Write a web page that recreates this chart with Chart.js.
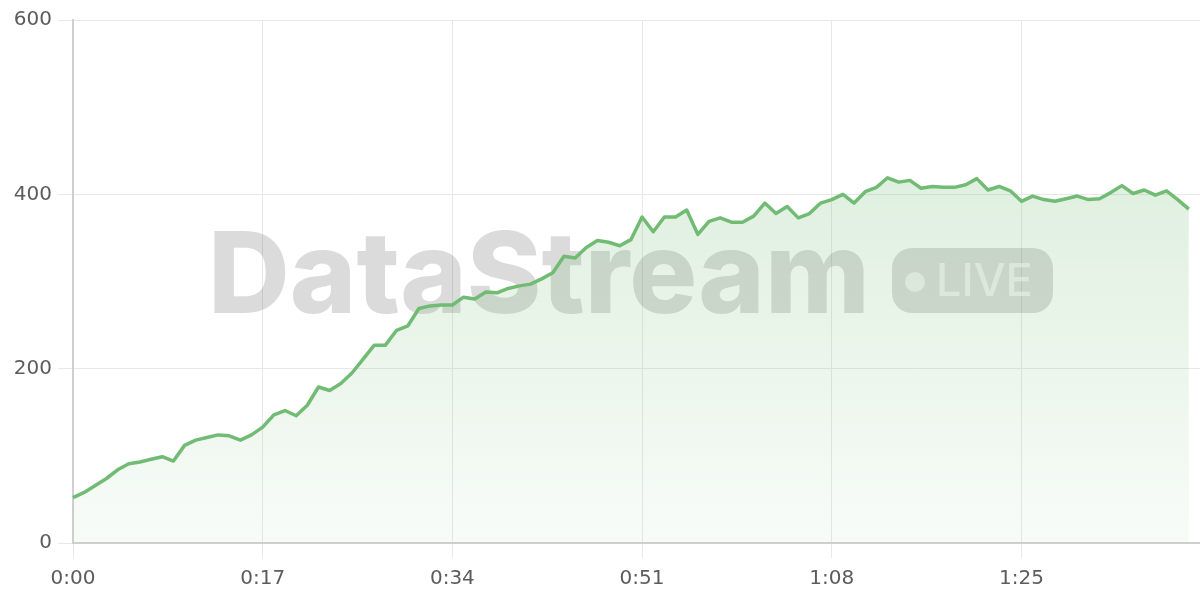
<!DOCTYPE html>
<html>
<head>
<meta charset="utf-8">
<script src="https://cdn.jsdelivr.net/npm/chart.js@4.4.1/dist/chart.umd.min.js"></script>
<style>
    html, body { margin: 0; padding: 0; background: #fff; }
    #wrap { width: 1200px; height: 600px; }
</style>
</head>
<body>
<div id="wrap"><canvas id="liveChart"></canvas></div>
<script>
// Sumbu waktu (detik sejak mulai), satu slot lebih dari data
const detik = Array.from({ length: 102 }, (_, i) => i);
const labelWaktu = detik.map(s => Math.floor(s / 60) + ':' + String(s % 60).padStart(2, '0'));

// Nilai stream per detik
const nilaiStream = [
    52, 58, 66, 74, 84, 91, 93, 96, 99, 94,
    112, 118, 121, 124, 123, 118, 124, 133, 147, 152,
    146, 158, 179, 175, 183, 195, 211, 227, 227, 244,
    249, 269, 272, 273, 273, 282, 280, 288, 287, 292,
    295, 297, 303, 310, 329, 327, 339, 347, 345, 341,
    348, 374, 357, 374, 374, 382, 354, 369, 373, 368,
    368, 375, 390, 378, 386, 373, 378, 390, 394, 400,
    390, 403, 408, 419, 414, 416, 407, 409, 408, 408,
    411, 418, 405, 409, 404, 392, 398, 394, 392, 395,
    398, 394, 395, 402, 410, 401, 405, 399, 404, 394,
    383
];

const tickY = [0, 200, 400, 600];

// Watermark "DataStream LIVE" di belakang grafik
const watermark = {
    id: 'watermark',
    beforeDatasetsDraw(chart) {
        const { ctx } = chart;
        ctx.save();
        ctx.fillStyle = 'rgba(0,0,0,0.14)';
        ctx.textBaseline = 'alphabetic';
        ctx.textAlign = 'left';
        let size = 112;
        ctx.font = `800 ${size}px Inter, Lato, sans-serif`;
        const w = ctx.measureText('DataStream').width;
        size = size * 662 / w;
        ctx.font = `800 ${size}px Inter, Lato, sans-serif`;
        ctx.fillText('DataStream', 208, 313);

        // pil LIVE
        ctx.beginPath();
        ctx.roundRect(892, 248, 161, 65, 20);
        ctx.fill();

        ctx.fillStyle = 'rgba(255,255,255,0.6)';
        ctx.beginPath();
        ctx.arc(915, 282, 10, 0, Math.PI * 2);
        ctx.fill();
        ctx.font = '500 45px Inter, Lato, sans-serif';
        ctx.fillText('LIVE', 936, 296);
        ctx.restore();
    }
};

const ctx = document.getElementById('liveChart').getContext('2d');

new Chart(ctx, {
    type: 'line',
    data: {
        labels: labelWaktu,
        datasets: [{
            data: nilaiStream,
            borderColor: '#72bb74',
            borderWidth: 3.5,
            borderJoinStyle: 'round',
            fill: 'origin',
            tension: 0,
            pointRadius: 0,
            backgroundColor: (c) => {
                const a = c.chart.chartArea;
                if (!a) return 'rgba(114,187,116,0.15)';
                const g = c.chart.ctx.createLinearGradient(0, a.top, 0, a.bottom);
                g.addColorStop(0, 'rgba(114,187,116,0.3)');
                g.addColorStop(1, 'rgba(114,187,116,0.05)');
                return g;
            }
        }]
    },
    options: {
        responsive: true,
        maintainAspectRatio: false,
        animation: false,
        layout: { padding: { top: 20, right: 0, left: 0, bottom: 0 } },
        plugins: { legend: { display: false }, tooltip: { enabled: false } },
        scales: {
            x: {
                grid: { color: '#e8e8e8', tickLength: 15 },
                border: { color: '#cfcfcf', width: 2 },
                ticks: {
                    autoSkip: true,
                    maxTicksLimit: 6,
                    maxRotation: 0,
                    color: '#5c5c5c',
                    padding: 9,
                    font: { family: 'DejaVu Sans', size: 20 }
                },
                afterFit: (s) => { s.height = 57; }
            },
            y: {
                min: 0,
                max: 600,
                afterBuildTicks: (s) => { s.ticks = tickY.map(v => ({ value: v })); },
                grid: { color: '#e8e8e8', tickLength: 15 },
                border: { color: '#cfcfcf', width: 2 },
                ticks: {
                    color: '#5c5c5c',
                    padding: 6,
                    font: { family: 'DejaVu Sans', size: 20 }
                },
                afterFit: (s) => { s.width = 73; }
            }
        }
    },
    plugins: [watermark]
});
</script>
</body>
</html>
